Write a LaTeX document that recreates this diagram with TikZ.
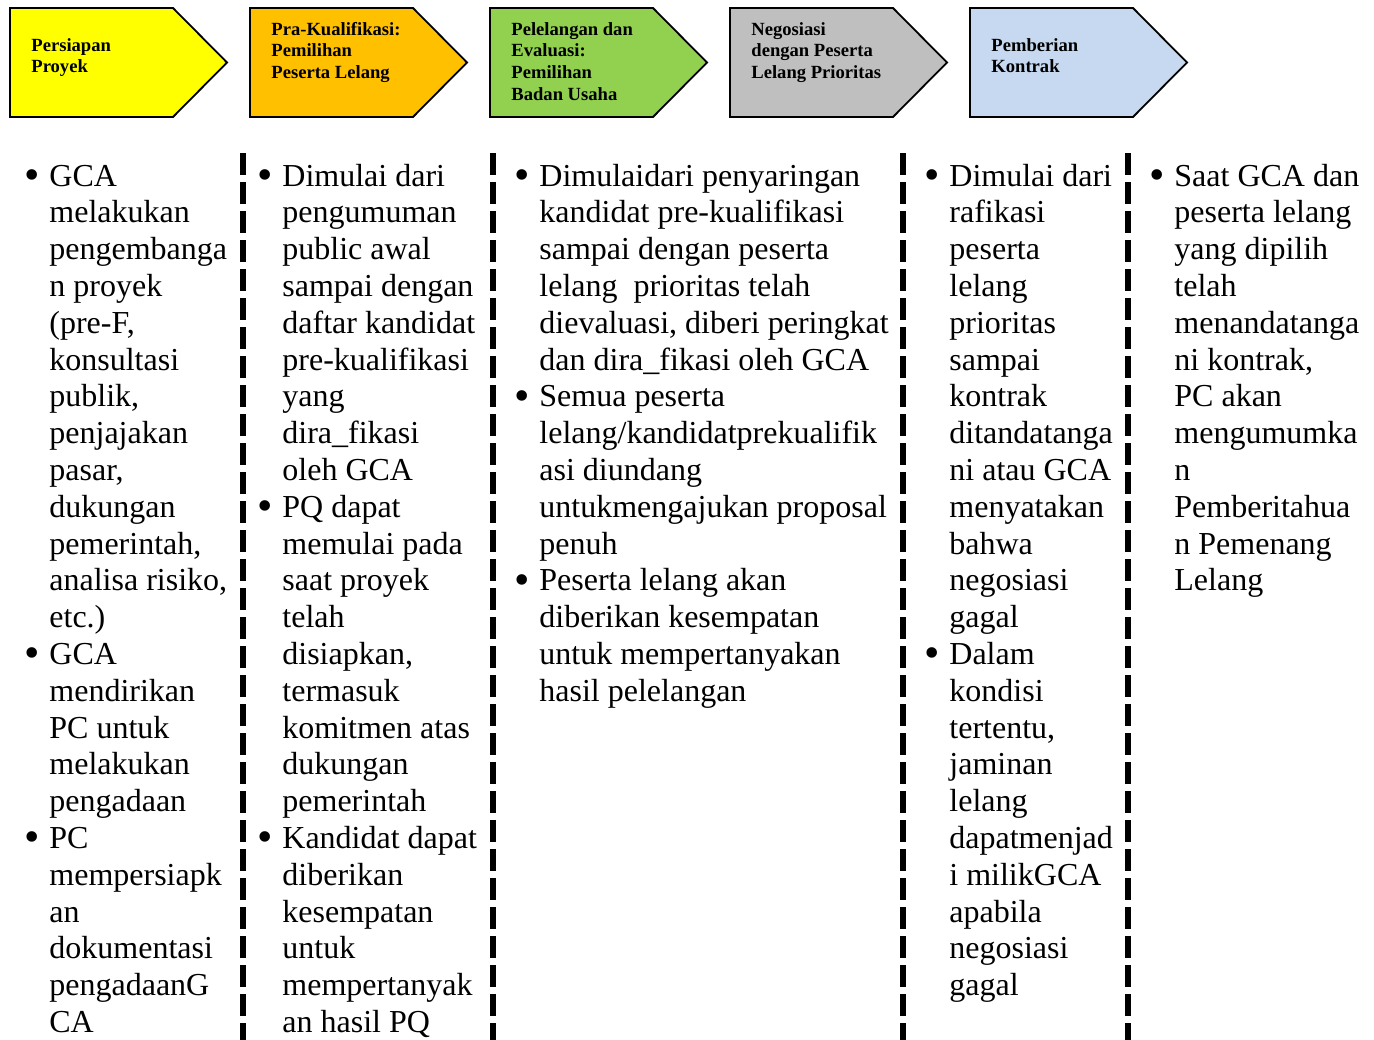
\documentclass[tikz,border=0pt]{standalone}
\usepackage{fontspec}
\setmainfont{Liberation Serif}
\definecolor{phY}{HTML}{FFFF00}
\definecolor{phO}{HTML}{FFC000}
\definecolor{phG}{HTML}{92D050}
\definecolor{phS}{HTML}{BFBFBF}
\definecolor{phB}{HTML}{C6D9F1}
% bullet line start and continuation indent
\newcommand\itemmark{\makebox[12pt][l]{\hspace{-0.5pt}\raisebox{-1.6pt}{\fontsize{22}{0}\selectfont\textbullet}}}
\newcommand\itemcont{\hspace*{12pt}}
\begin{document}
\begin{tikzpicture}[x=0.5pt,y=-0.5pt,
  phase/.style={draw=black, line width=0.9pt, line join=miter},
  phaselabel/.style={anchor=base west, inner sep=0pt,
    font=\fontsize{9.3}{10.85}\selectfont\bfseries},
  column/.style={anchor=base west, inner sep=0pt,
    font=\fontsize{16}{18.4}\selectfont},
  sep/.style={line width=3pt, dash pattern=on 11pt off 3.5pt}]
\useasboundingbox (0,0) rectangle (1374,1039);

% phase arrows
\foreach \x/\c in {10/phY, 250/phO, 490/phG, 730/phS, 970/phB}
  \filldraw[phase, fill=\c] (\x,8) -- (\x+163,8) -- (\x+217,62.5)
    -- (\x+163,117) -- (\x,117) -- cycle;

\node[phaselabel] (p1) at (31,51) {\parbox[t]{200pt}{Persiapan\\Proyek}};
\node[phaselabel] (p2) at (271,35) {\parbox[t]{200pt}{Pra-Kualifikasi:\\Pemilihan\\Peserta Lelang}};
\node[phaselabel] (p3) at (511,35) {\parbox[t]{200pt}{Pelelangan dan\\Evaluasi:\\Pemilihan\\Badan Usaha}};
\node[phaselabel] (p4) at (751,35) {\parbox[t]{200pt}{Negosiasi\\dengan Peserta\\Lelang Prioritas}};
\node[phaselabel] (p5) at (991,51) {\parbox[t]{200pt}{Pemberian\\Kontrak}};

% column separators
\foreach \x in {243, 493, 903, 1128}
  \draw[sep] (\x,153) -- (\x,1045);

% column texts
\node[column] (c1) at (25,186) {\parbox[t]{400pt}{%
\itemmark GCA\\
\itemcont melakukan\\
\itemcont pengembanga\\
\itemcont n proyek\\
\itemcont (pre-F,\\
\itemcont konsultasi\\
\itemcont publik,\\
\itemcont penjajakan\\
\itemcont pasar,\\
\itemcont dukungan\\
\itemcont pemerintah,\\
\itemcont analisa risiko,\\
\itemcont etc.)\\
\itemmark GCA\\
\itemcont mendirikan\\
\itemcont PC untuk\\
\itemcont melakukan\\
\itemcont pengadaan\\
\itemmark PC\\
\itemcont mempersiapk\\
\itemcont an\\
\itemcont dokumentasi\\
\itemcont pengadaanG\\
\itemcont CA}};

\node[column] (c2) at (258,186) {\parbox[t]{400pt}{%
\itemmark Dimulai dari\\
\itemcont pengumuman\\
\itemcont public awal\\
\itemcont sampai dengan\\
\itemcont daftar kandidat\\
\itemcont pre-kualifikasi\\
\itemcont yang\\
\itemcont dira\_fikasi\\
\itemcont oleh GCA\\
\itemmark PQ dapat\\
\itemcont memulai pada\\
\itemcont saat proyek\\
\itemcont telah\\
\itemcont disiapkan,\\
\itemcont termasuk\\
\itemcont komitmen atas\\
\itemcont dukungan\\
\itemcont pemerintah\\
\itemmark Kandidat dapat\\
\itemcont diberikan\\
\itemcont kesempatan\\
\itemcont untuk\\
\itemcont mempertanyak\\
\itemcont an hasil PQ}};

\node[column] (c3) at (515,186) {\parbox[t]{400pt}{%
\itemmark Dimulaidari penyaringan\\
\itemcont kandidat pre-kualifikasi\\
\itemcont sampai dengan peserta\\
\itemcont lelang~ prioritas telah\\
\itemcont dievaluasi, diberi peringkat\\
\itemcont dan dira\_fikasi oleh GCA\\
\itemmark Semua peserta\\
\itemcont lelang/kandidatprekualifik\\
\itemcont asi diundang\\
\itemcont untukmengajukan proposal\\
\itemcont penuh\\
\itemmark Peserta lelang akan\\
\itemcont diberikan kesempatan\\
\itemcont untuk mempertanyakan\\
\itemcont hasil pelelangan}};

\node[column] (c4) at (925,186) {\parbox[t]{400pt}{%
\itemmark Dimulai dari\\
\itemcont rafikasi\\
\itemcont peserta\\
\itemcont lelang\\
\itemcont prioritas\\
\itemcont sampai\\
\itemcont kontrak\\
\itemcont ditandatanga\\
\itemcont ni atau GCA\\
\itemcont menyatakan\\
\itemcont bahwa\\
\itemcont negosiasi\\
\itemcont gagal\\
\itemmark Dalam\\
\itemcont kondisi\\
\itemcont tertentu,\\
\itemcont jaminan\\
\itemcont lelang\\
\itemcont dapatmenjad\\
\itemcont i milikGCA\\
\itemcont apabila\\
\itemcont negosiasi\\
\itemcont gagal}};

\node[column] (c5) at (1150,186) {\parbox[t]{400pt}{%
\itemmark Saat GCA dan\\
\itemcont peserta lelang\\
\itemcont yang dipilih\\
\itemcont telah\\
\itemcont menandatanga\\
\itemcont ni kontrak,\\
\itemcont PC akan\\
\itemcont mengumumka\\
\itemcont n\\
\itemcont Pemberitahua\\
\itemcont n Pemenang\\
\itemcont Lelang}};
\end{tikzpicture}
\end{document}
